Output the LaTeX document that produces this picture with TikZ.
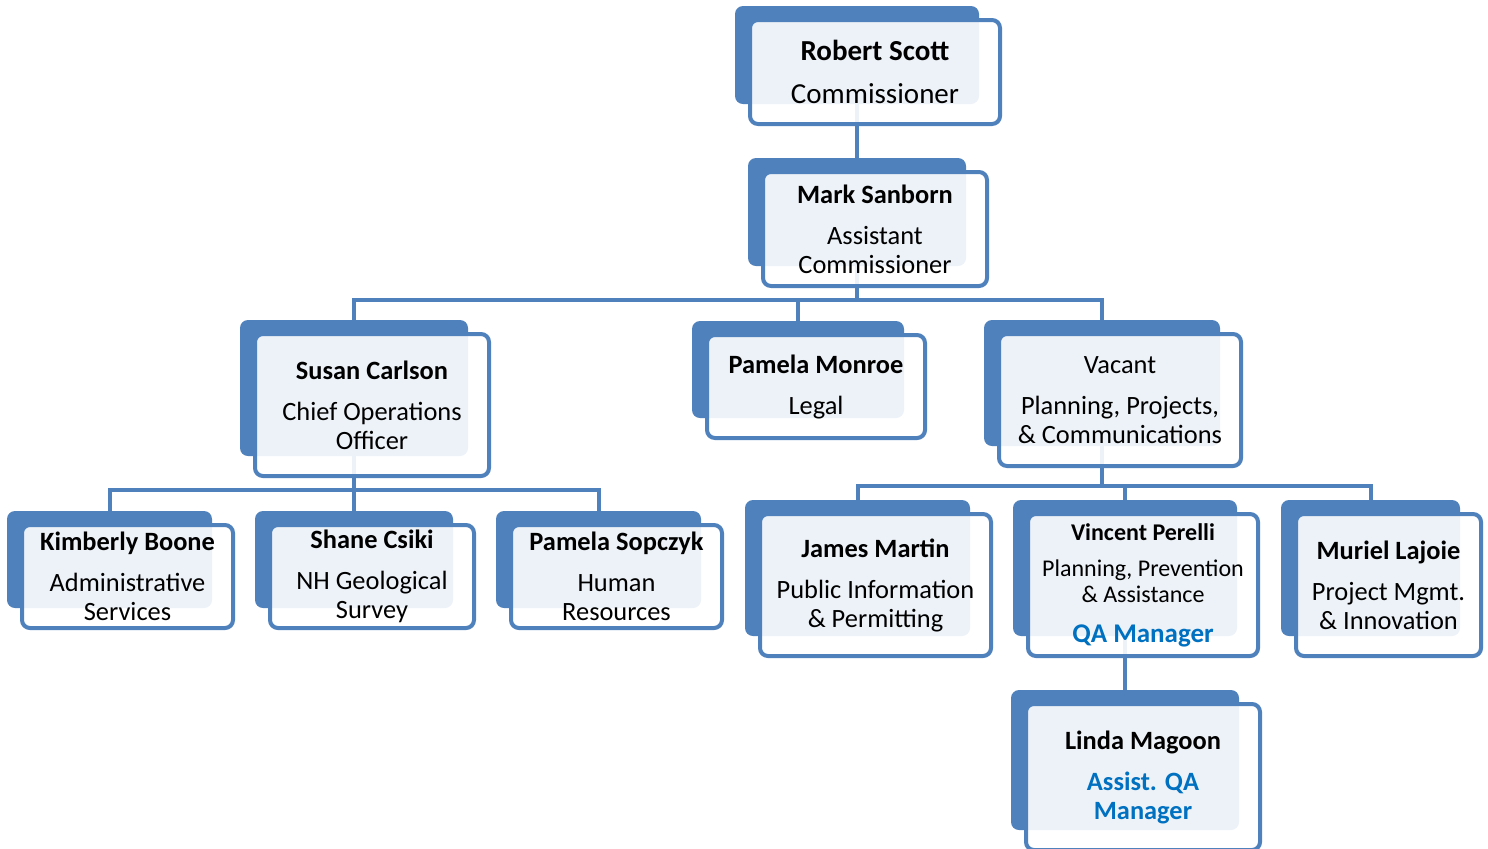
\documentclass[tikz,border=0pt]{standalone}
\usepackage{fontspec}
\setmainfont{Carlito}
\usetikzlibrary{positioning}
\definecolor{orgblue}{HTML}{4F81BD}
\definecolor{qablue}{HTML}{0070C0}
\pgfdeclarelayer{back}
\pgfsetlayers{back,main}

\begin{document}
\begin{tikzpicture}
[
x=0.5pt, y=-0.5pt,
box-b/.style 2 args={rectangle, rounded corners=4pt, fill=orgblue, inner sep=0pt,
  minimum width=#1*0.5pt, minimum height=#2*0.5pt},
box-f/.style 2 args={rectangle, rounded corners=4pt, draw=orgblue, line width=2pt,
  fill=white, fill opacity=0.9, text opacity=1, inner sep=0pt, align=center,
  minimum width=#1*0.5pt+3pt, minimum height=#2*0.5pt+3pt,
  font=\fontsize{13.2}{14.5}\selectfont},
link/.style={draw=orgblue, line width=2pt}
]
\useasboundingbox (0,0) rectangle (1488,848);

% top
\node (scott)      [box-b={244}{98}]  at (857,55) {};
\node (scott-f)    [box-f={244}{98}, font=\fontsize{14.5}{16}\selectfont] at ([shift={(18,17)}]scott.center)
  {\textbf{Robert Scott}\\[5.5pt]Commissioner};
\node (sanborn)    [box-b={218}{108}] at (857,212) {};
\node (sanborn-f)  [box-f={218}{108}] at ([shift={(18,17)}]sanborn.center)
  {\textbf{Mark Sanborn}\\[6pt]Assistant\\Commissioner};

% second row
\node (carlson)    [box-b={228}{136}] at (354,388) {};
\node (carlson-f)  [box-f={228}{136}] at ([shift={(18,17)}]carlson.center)
  {\textbf{Susan Carlson}\\[6pt]Chief Operations\\Officer};
\node (monroe)     [box-b={212}{97}]  at (798,369.5) {};
\node (monroe-f)   [box-f={212}{97}]  at ([shift={(18,17)}]monroe.center)
  {\textbf{Pamela Monroe}\\[6pt]Legal};
\node (vacant)     [box-b={236}{126}] at (1102,383) {};
\node (vacant-f)   [box-f={236}{126}] at ([shift={(18,17)}]vacant.center)
  {Vacant\\[6pt]Planning, Projects,\\\& Communications};

% third row, left
\node (boone)      [box-b={205}{97}]  at (109.5,559.5) {};
\node (boone-f)    [box-f={205}{97}]  at ([shift={(18,17)}]boone.center)
  {\textbf{Kimberly Boone}\\[6pt]Administrative\\Services};
\node (csiki)      [box-b={198}{97}]  at (354,559.5) {};
\node (csiki-f)    [box-f={198}{97}]  at ([shift={(18,17)}]csiki.center)
  {\textbf{Shane Csiki}\\[6pt]NH Geological\\Survey};
\node (sopczyk)    [box-b={205}{97}]  at (598.5,559.5) {};
\node (sopczyk-f)  [box-f={205}{97}]  at ([shift={(18,17)}]sopczyk.center)
  {\textbf{Pamela Sopczyk}\\[6pt]Human\\Resources};

% third row, right
\node (martin)     [box-b={225}{136}] at (857.5,568) {};
\node (martin-f)   [box-f={225}{136}] at ([shift={(18,17)}]martin.center)
  {\textbf{James Martin}\\[6pt]Public Information\\\& Permitting};
\node (perelli)    [box-b={224}{136}] at (1125,568) {};
\node (perelli-f)  [box-f={224}{136}, font=\fontsize{12}{13}\selectfont] at ([shift={(18,17)}]perelli.center)
  {\textbf{Vincent Perelli}\\[5pt]Planning, Prevention\\\& Assistance\\[7pt]
   \textcolor{qablue}{\fontsize{13.5}{15}\selectfont\textbf{QA Manager}}};
\node (lajoie)     [box-b={179}{136}] at (1370.5,568) {};
\node (lajoie-f)   [box-f={179}{136}] at ([shift={(18,17)}]lajoie.center)
  {\textbf{Muriel Lajoie}\\[6pt]Project Mgmt.\\\& Innovation};

% bottom
\node (magoon)     [box-b={228}{140}] at (1125,760) {};
\node (magoon-f)   [box-f={228}{140}] at ([shift={(18,17)}]magoon.center)
  {\textbf{Linda Magoon}\\[6pt]\textcolor{qablue}{\textbf{Assist. QA}}\\\textcolor{qablue}{\textbf{Manager}}};

% connectors
\coordinate (bar-a) at (857,300);
\coordinate (bar-b) at (354,490);
\coordinate (bar-c) at (1102,486);
\begin{pgfonlayer}{back}
\draw[link] (scott.south) -- (sanborn.north);
\draw[link] (sanborn.south) -- (bar-a);
\draw[link] (bar-a) -| (carlson.north);
\draw[link] (bar-a) -| (monroe.north);
\draw[link] (bar-a) -| (vacant.north);
\draw[link] (carlson.south) -- (bar-b);
\draw[link] (bar-b) -| (boone.north);
\draw[link] (bar-b) -| (sopczyk.north);
\draw[link] (bar-b) -- (csiki.north);
\draw[link] (vacant.south) -- (bar-c);
\draw[link] (bar-c) -| (martin.north);
\draw[link] (bar-c) -| (perelli.north);
\draw[link] (bar-c) -| (lajoie.north);
\draw[link] (perelli.south) -- (magoon.north);
\end{pgfonlayer}
\end{tikzpicture}
\end{document}
